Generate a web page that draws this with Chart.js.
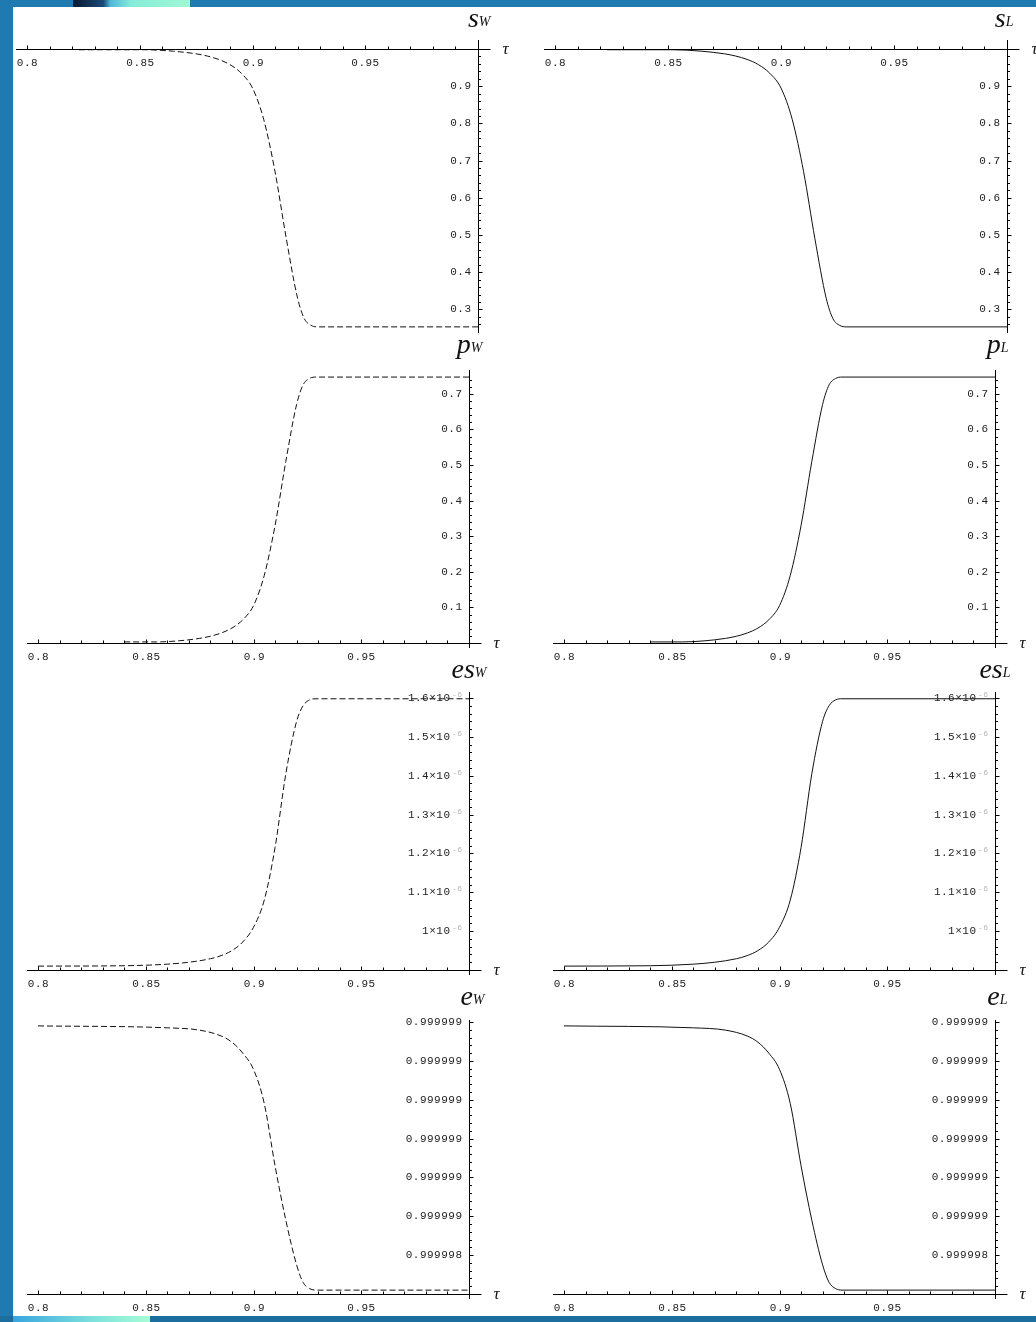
<!DOCTYPE html>
<html>
<head>
<meta charset="utf-8">
<script src="https://cdn.jsdelivr.net/npm/chart.js@4.4.1/dist/chart.umd.min.js"></script>
<style>
  html, body { margin: 0; padding: 0; }
  body { width: 1036px; height: 1322px; position: relative; overflow: hidden; background: #1e7ab0; }
  .sheet { position: absolute; left: 13px; top: 7px; width: 1023px; height: 1309px; background: #fff; }
  .bar-bottom { position: absolute; left: 0; top: 1316px; width: 1036px; height: 6px; background: #1c6e9f; }
  .deco-top { position: absolute; left: 73px; top: 0; width: 117px; height: 7px;
    background: linear-gradient(90deg, #08182f 0%, #184a78 26%, #4fb8d6 32%, #86ecd9 50%, #9ef8d3 100%); }
  .deco-bottom { position: absolute; left: 13px; top: 1316px; width: 137px; height: 6px;
    background: linear-gradient(90deg, #38a6de 0%, #7fe3dc 60%, #a6fcd6 100%); }
  canvas { position: absolute; }
</style>
</head>
<body>
<div class="sheet"></div>
<div class="bar-bottom"></div>
<div class="deco-top"></div>
<div class="deco-bottom"></div>
<canvas id="sW"></canvas>
<canvas id="sL"></canvas>
<canvas id="pW"></canvas>
<canvas id="pL"></canvas>
<canvas id="esW"></canvas>
<canvas id="esL"></canvas>
<canvas id="eW"></canvas>
<canvas id="eL"></canvas>
<script>
// tau axis
const tauTicks = [0.8, 0.85, 0.9, 0.95];
const tauLabels = ['0.8', '0.85', '0.9', '0.95'];
const tauMinor = 0.01;

// s
const tauS = [0.823, 0.852, 0.865, 0.875, 0.88, 0.885, 0.89, 0.895, 0.9, 0.905, 0.91, 0.915, 0.92, 0.923, 0.926, 0.929, 1.0];
const sW = [0.998, 0.998, 0.994, 0.987, 0.981, 0.972, 0.958, 0.935, 0.895, 0.81, 0.67, 0.49, 0.33, 0.275, 0.257, 0.253, 0.253];
const sL = [0.998, 0.998, 0.994, 0.987, 0.981, 0.972, 0.958, 0.935, 0.895, 0.81, 0.67, 0.49, 0.33, 0.275, 0.257, 0.253, 0.253];
const sTicks = [0.3, 0.4, 0.5, 0.6, 0.7, 0.8, 0.9];
const sLabels = ['0.3', '0.4', '0.5', '0.6', '0.7', '0.8', '0.9'];

// p
const tauP = [0.84, 0.855, 0.865, 0.875, 0.88, 0.885, 0.89, 0.895, 0.9, 0.905, 0.91, 0.915, 0.92, 0.923, 0.926, 0.929, 1.0];
const pW = [0.003, 0.003, 0.006, 0.013, 0.019, 0.028, 0.042, 0.065, 0.105, 0.19, 0.33, 0.51, 0.67, 0.725, 0.743, 0.747, 0.747];
const pL = [0.003, 0.003, 0.006, 0.013, 0.019, 0.028, 0.042, 0.065, 0.105, 0.19, 0.33, 0.51, 0.67, 0.725, 0.743, 0.747, 0.747];
const pTicks = [0.1, 0.2, 0.3, 0.4, 0.5, 0.6, 0.7];
const pLabels = ['0.1', '0.2', '0.3', '0.4', '0.5', '0.6', '0.7'];

// es
const tauEs = [0.8, 0.84, 0.86, 0.87, 0.88, 0.885, 0.89, 0.895, 0.9, 0.905, 0.91, 0.915, 0.92, 0.923, 0.926, 0.929, 1.0];
const esW = [0.910e-6, 0.911e-6, 0.915e-6, 0.920e-6, 0.929e-6, 0.937e-6, 0.950e-6, 0.972e-6, 1.010e-6, 1.080e-6, 1.215e-6, 1.405e-6, 1.540e-6, 1.580e-6, 1.595e-6, 1.598e-6, 1.598e-6];
const esL = [0.910e-6, 0.911e-6, 0.915e-6, 0.920e-6, 0.929e-6, 0.937e-6, 0.950e-6, 0.972e-6, 1.010e-6, 1.080e-6, 1.215e-6, 1.405e-6, 1.540e-6, 1.580e-6, 1.595e-6, 1.598e-6, 1.598e-6];
const esTicks = [1.0e-6, 1.1e-6, 1.2e-6, 1.3e-6, 1.4e-6, 1.5e-6, 1.6e-6];
const esLabels = ['1\u00d710', '1.1\u00d710', '1.2\u00d710', '1.3\u00d710', '1.4\u00d710', '1.5\u00d710', '1.6\u00d710'];
const esExp = '-6';

// e
const tauE = [0.8, 0.86, 0.875, 0.885, 0.89, 0.895, 0.9, 0.905, 0.91, 0.915, 0.92, 0.923, 0.926, 0.929, 1.0];
const eW = [0.99999899, 0.999998985, 0.999998979, 0.999998964, 0.999998948, 0.99999892, 0.999998878, 0.99999879, 0.99999863, 0.99999849, 0.999998375, 0.99999833, 0.999998314, 0.99999831, 0.99999831];
const eL = [0.99999899, 0.999998985, 0.999998979, 0.999998964, 0.999998948, 0.99999892, 0.999998878, 0.99999879, 0.99999863, 0.99999849, 0.999998375, 0.99999833, 0.999998314, 0.99999831, 0.99999831];
const eTicks = [0.9999984, 0.9999985, 0.9999986, 0.9999987, 0.9999988, 0.9999989, 0.9999990];
const eLabels = ['0.999998', '0.999999', '0.999999', '0.999999', '0.999999', '0.999999', '0.999999'];

const MONO = '"Liberation Mono", "DejaVu Sans Mono", monospace';
const SERIF = '"Liberation Serif", "DejaVu Serif", serif';

// Mathematica-like axes: tau axis crossing at o.cross, value axis at tau = max
const mathAxes = {
  id: 'mathAxes',
  afterDatasetsDraw(chart, args, o) {
    const { ctx, chartArea: area } = chart;
    const xs = chart.scales.x, ys = chart.scales.y;
    const px = v => Math.round(xs.getPixelForValue(v)) + 0.5;
    const py = v => Math.round(ys.getPixelForValue(v)) + 0.5;
    const ax = px(xs.max);
    const ay = py(o.cross);
    const near = (a, b, eps) => Math.abs(a - b) < eps;

    ctx.save();
    ctx.strokeStyle = '#000';
    ctx.lineWidth = 1;
    ctx.beginPath();
    ctx.moveTo(area.left - 11, ay);
    ctx.lineTo(ax + 12, ay);
    ctx.moveTo(ax, area.top - o.overhang);
    ctx.lineTo(ax, area.bottom + 5);

    for (let i = 0; ; i++) {
      const t = xs.min + i * tauMinor;
      if (t > xs.max - tauMinor / 2) break;
      const major = tauTicks.some(m => near(m, t, tauMinor / 10));
      ctx.moveTo(px(t), ay);
      ctx.lineTo(px(t), ay - (major ? 4 : 3));
    }
    for (let i = 0; ; i++) {
      const v = o.minorFrom + i * o.minor;
      if (v > ys.max + o.minor / 10) break;
      const major = o.ticks.some(m => near(m, v, o.minor / 10));
      ctx.moveTo(ax, py(v));
      ctx.lineTo(ax + (major ? 4 : 2.5), py(v));
    }
    ctx.stroke();

    ctx.fillStyle = '#222';
    ctx.font = '11px ' + MONO;
    ctx.letterSpacing = '0.5px';
    ctx.textAlign = 'center';
    ctx.textBaseline = 'middle';
    tauTicks.forEach((t, i) => ctx.fillText(tauLabels[i], px(t), ay + 13.5));

    ctx.textAlign = 'right';
    o.ticks.forEach((v, i) => {
      const y = py(v);
      if (o.exp) {
        ctx.font = '8px ' + MONO;
        ctx.fillStyle = '#b8b8b8';
        ctx.fillText(o.exp, ax - 7, y - 4);
        ctx.font = '11px ' + MONO;
        ctx.fillStyle = '#222';
        ctx.fillText(o.labels[i], ax - 19, y);
      } else {
        ctx.fillText(o.labels[i], ax - 7, y);
      }
    });
    ctx.letterSpacing = '0px';

    // panel title with subscript
    ctx.fillStyle = '#111';
    ctx.textBaseline = 'alphabetic';
    ctx.textAlign = 'left';
    ctx.font = 'italic 14px ' + SERIF;
    const subW = ctx.measureText(o.sub).width;
    ctx.font = 'italic 28px ' + SERIF;
    const mainW = ctx.measureText(o.title).width;
    const right = ax + o.titleDx;
    const base = area.top - o.titleGap;
    ctx.fillText(o.title, right - subW - mainW, base);
    ctx.font = 'italic 14px ' + SERIF;
    ctx.fillText(o.sub, right - subW, base - 1);

    ctx.font = 'italic 17px ' + SERIF;
    ctx.textBaseline = 'middle';
    ctx.fillText('\u03c4', ax + 24, ay);
    ctx.restore();
  }
};

// canvas box and plot rectangle in page pixels
function panel(id, box, plot, tau, vals, dashed, yMin, yMax, axes) {
  const cv = document.getElementById(id);
  const [bl, bt, bw, bh] = box;
  const [x0, x1, yTop, yBot] = plot;
  cv.width = bw; cv.height = bh;
  cv.style.left = bl + 'px'; cv.style.top = bt + 'px';
  cv.style.width = bw + 'px'; cv.style.height = bh + 'px';
  new Chart(cv, {
    type: 'line',
    data: {
      datasets: [{
        data: tau.map((t, i) => ({ x: t, y: vals[i] })),
        borderColor: '#111',
        borderWidth: 1,
        borderDash: dashed ? [6, 3] : [],
        cubicInterpolationMode: 'monotone',
        pointRadius: 0,
        fill: false
      }]
    },
    options: {
      responsive: false,
      animation: false,
      events: [],
      layout: { padding: { left: x0 - bl, right: bl + bw - x1, top: yTop - bt, bottom: bt + bh - yBot } },
      scales: {
        x: { type: 'linear', min: 0.8, max: 1.0, display: false },
        y: { type: 'linear', min: yMin, max: yMax, display: false }
      },
      plugins: { legend: { display: false }, tooltip: { enabled: false }, mathAxes: axes }
    },
    plugins: [mathAxes]
  });
}

const L = [13, 507], R = [520, 516];
const rows = [[7, 329], [336, 326], [662, 326], [988, 328]];

const sAxes = { cross: 1.0, minorFrom: 0.26, minor: 0.02, ticks: sTicks, labels: sLabels, title: 's', overhang: 9, titleGap: 22, titleDx: 12 };
panel('sW', [L[0], rows[0][0], L[1], rows[0][1]], [27, 478, 49, 328], tauS, sW, true, 0.25, 1.0, { ...sAxes, sub: 'W' });
panel('sL', [R[0], rows[0][0], R[1], rows[0][1]], [555, 1007, 49, 328], tauS, sL, false, 0.25, 1.0, { ...sAxes, sub: 'L', titleDx: 6 });

const pAxes = { cross: 0, minorFrom: 0.02, minor: 0.02, ticks: pTicks, labels: pLabels, title: 'p', overhang: 6, titleGap: 23, titleDx: 13 };
panel('pW', [L[0], rows[1][0], L[1], rows[1][1]], [38, 469, 376, 643], tauP, pW, true, 0, 0.75, { ...pAxes, sub: 'W' });
panel('pL', [R[0], rows[1][0], R[1], rows[1][1]], [564, 995, 376, 643], tauP, pL, false, 0, 0.75, { ...pAxes, sub: 'L' });

const esAxes = { cross: 0.9e-6, minorFrom: 0.92e-6, minor: 0.02e-6, ticks: esTicks, labels: esLabels, exp: esExp, title: 'es', overhang: 6, titleGap: 20, titleDx: 17 };
panel('esW', [L[0], rows[2][0], L[1], rows[2][1]], [38, 469, 698, 970], tauEs, esW, true, 0.9e-6, 1.6e-6, { ...esAxes, sub: 'W' });
panel('esL', [R[0], rows[2][0], R[1], rows[2][1]], [564, 995, 698, 970], tauEs, esL, false, 0.9e-6, 1.6e-6, { ...esAxes, sub: 'L', titleDx: 15 });

const eAxes = { cross: 0.9999983, minorFrom: 0.99999832, minor: 0.00000002, ticks: eTicks, labels: eLabels, title: 'e', overhang: 2, titleGap: 17, titleDx: 15 };
panel('eW', [L[0], rows[3][0], L[1], rows[3][1]], [38, 469, 1022, 1294], tauE, eW, true, 0.9999983, 0.9999990, { ...eAxes, sub: 'W' });
panel('eL', [R[0], rows[3][0], R[1], rows[3][1]], [564, 995, 1022, 1294], tauE, eL, false, 0.9999983, 0.9999990, { ...eAxes, sub: 'L', titleDx: 12 });
</script>
</body>
</html>
